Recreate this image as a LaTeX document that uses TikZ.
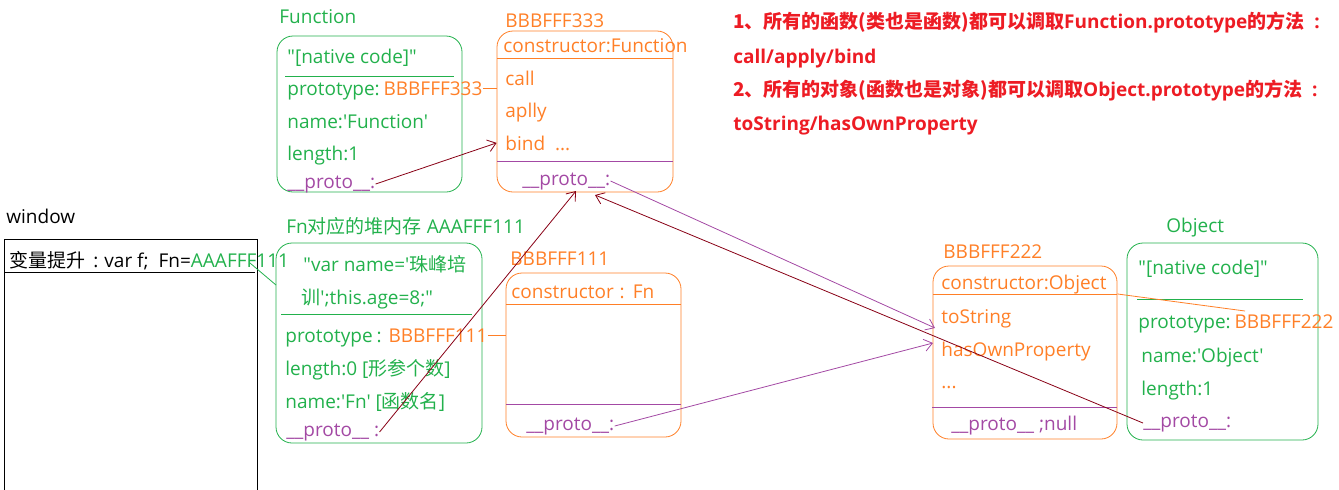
\documentclass[tikz,border=0pt]{standalone}
\usepackage{fontspec}
\setmainfont{Open Sans}[Ligatures=TeXOff]
\newfontfamily\zh{Noto Sans CJK SC}
\usetikzlibrary{fit,positioning,arrows.meta}
\definecolor{pgreen}{HTML}{22B14C}
\definecolor{porange}{HTML}{FF7F27}
\definecolor{ppurple}{HTML}{A349A4}
\definecolor{pmaroon}{HTML}{880015}
\definecolor{pred}{HTML}{ED1C24}
\newcommand{\pr}{\_\_proto\_\_}

\begin{document}
\begin{tikzpicture}[x=0.5pt,y=-0.5pt,
  every node/.style={inner sep=0pt,anchor=base west,font=\fontsize{9.5}{11}\selectfont},
  gt/.style={text=pgreen}, ot/.style={text=porange}, pt/.style={text=ppurple},
  rt/.style={text=pred,font=\fontsize{9.5}{11}\selectfont\bfseries},
  gbox/.style={draw=pgreen,rounded corners=8pt,fit={#1},anchor=center},
  obox/.style={draw=porange,rounded corners=8pt,fit={#1},anchor=center},
  mline/.style={pmaroon,-{Straight Barb[length=4pt,width=6pt]}},
  pline/.style={ppurple,-{Straight Barb[length=4pt,width=6pt]}}]
\useasboundingbox (0,0) rectangle (1339,489);

\node (w0) at (6,223) {window};
\draw (4,239) rectangle (257,500);
\node (w1) at (9,267) {{\zh 变量提升}\hspace{4pt}:\hspace{3pt}var f;\ \ Fn=\textcolor{pgreen}{AAAFFF111}};
\draw (5,272) -- (255,272);

\node[gt] (f0) at (279,23) {Function};
\node[gbox={(277,36) (462,192)}] (fbox) {};
\node[gt] (f1) at (287,63) {"[native code]"};
\draw[pgreen] (285,76) -- (454,76);
\node[gt] (f2) at (287,95) {prototype:};
\node[ot,base right=1.5pt of f2] (f3) {BBBFFF333};
\node[gt] (f4) at (287,128) {name:'Function'};
\node[gt] (f5) at (287,160) {length:1};
\node[pt] (f6) at (287,188) {\pr:};

\node[ot] (b0) at (505,27) {BBBFFF333};
\node[obox={(497,31) (673,192)}] (bbox) {};
\node[ot] (b1) at (503,52) {constructor:Function};
\draw[porange] (497,58) -- (673,58);
\node[ot] (b2) at (505,85) {call};
\node[ot] (b3) at (505,117) {aplly};
\node[ot] (b4) at (505,150) {bind\ \ ...};
\draw[ppurple] (497,161) -- (673,161);
\node[pt] (b5) at (522,185) {\pr:};

\node[gt] (n0) at (286,233) {Fn{\zh 对应的堆内存} AAAFFF111};
\node[gbox={(276,243) (482,443)}] (nbox) {};
\node[gt] (n1) at (303,271) {"var name='{\zh 珠峰培}};
\node[gt] (n2) at (301,304) {{\zh 训}';this.age=8;"};
\draw[pgreen] (281,314) -- (472,314);
\node[gt] (n3) at (285,342) {prototype\hspace{2pt}:};
\node[ot,base right=3pt of n3] (n4) {BBBFFF111};
\node[gt] (n5) at (285,375) {length:0 [{\zh 形参个数}]};
\node[gt] (n6) at (285,408) {name:'Fn' [{\zh 函数名}]};
\node[pt] (n7) at (286,436) {\pr\ :};

\node[ot] (c0) at (510,265) {BBBFFF111};
\node[obox={(506,273) (681,437)}] (cbox) {};
\node[ot] (c1) at (511,298) {constructor\hspace{3pt}:\hspace{4pt}Fn};
\draw[porange] (506,304) -- (681,304);
\draw[ppurple] (506,404) -- (681,404);
\node[pt] (c2) at (526,430) {\pr:};

\node[ot] (d0) at (943,258) {BBBFFF222};
\node[obox={(933,266) (1117,439)}] (dbox) {};
\node[ot] (d1) at (941,289) {constructor:Object};
\draw[porange] (933,294) -- (1117,294);
\node[ot] (d2) at (941,323) {toString};
\node[ot] (d3) at (941,356) {hasOwnProperty};
\node[ot] (d4) at (941,388) {...};
\draw[ppurple] (932,407) -- (1117,407);
\node[pt] (d5) at (951,430) {\pr\ ;null};

\node[gt] (e0) at (1166,232) {Object};
\node[gbox={(1127,243) (1318,440)}] (ebox) {};
\node[gt] (e1) at (1138,274) {"[native code]"};
\draw[pgreen] (1137,299) -- (1303,299);
\node[gt] (e2) at (1138,328) {prototype:};
\node[ot,base right=1.5pt of e2] (e3) {BBBFFF222};
\node[gt] (e4) at (1141,362) {name:'Object'};
\node[gt] (e5) at (1141,395) {length:1};
\node[pt] (e6) at (1143,427) {\pr:};

\node[rt] (r1) at (733,28) {{\zh 1、所有的函数(类也是函数)都可以调取}Function.prototype{\zh 的方法}\hspace{5pt}:};
\node[rt] (r2) at (733,63) {call/apply/bind};
\node[rt] (r3) at (733,96) {{\zh 2、所有的对象(函数也是对象)都可以调取}Object.prototype{\zh 的方法}\hspace{5pt}:};
\node[rt] (r4) at (733,130) {toString/hasOwnProperty};

\coordinate (t1) at (576,191);
\coordinate (t2) at (595,195);
\coordinate (t3) at (935,328);
\coordinate (t4) at (933,343);
\coordinate (t5) at (1245,311);
\coordinate (t6) at (250,263);
\coordinate (t7) at (276,285);

\draw[porange] (f3.east) -- (bbox.west |- f3.east);
\draw[porange] (n4.east) -- (cbox.west |- n4.east);
\draw[porange] (dbox.east |- d1.south) -- (t5);
\draw[pgreen] (t6) -- (t7);
\draw[mline] (f6.east) -- (bbox.west |- b4);
\draw[mline] (n7.east) -- (t1);
\draw[mline] (e6.west) -- (t2);
\draw[pline] (b5.east) -- (t3);
\draw[pline] (c2.east) -- (t4);
\end{tikzpicture}
\end{document}
